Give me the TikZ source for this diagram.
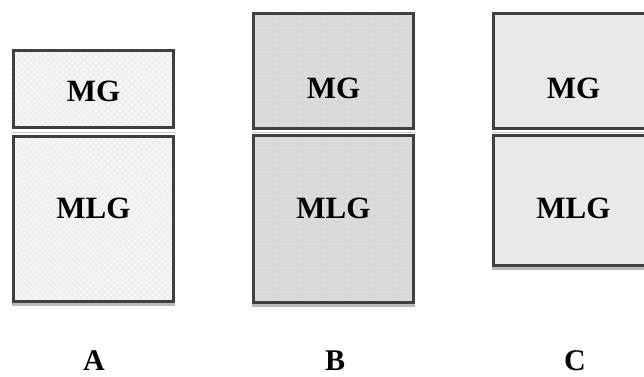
\documentclass[tikz,border=0pt]{standalone}
\usepackage{fontspec}
\setmainfont{Liberation Serif}
\usetikzlibrary{patterns.meta}
\definecolor{edge}{HTML}{404040}
\definecolor{fillA}{HTML}{EEEEEE}
\definecolor{fillB}{HTML}{D9D9D9}
\definecolor{fillC}{HTML}{E9E9E9}
\definecolor{seam}{HTML}{C8C8C8}
\tikzset{
  layerbox/.style={draw=edge, line width=3pt, rectangle, inner sep=0pt, outer sep=0pt},
  texA/.style={preaction={fill=fillA}, preaction={pattern={Lines[angle=45, distance=4pt, line width=0.5pt]}, pattern color=white}, preaction={pattern={Lines[angle=-45, distance=4pt, line width=0.5pt]}, pattern color=white}},
  texB/.style={preaction={fill=fillB}, preaction={pattern={Dots[distance=6pt, radius=0.7pt]}, pattern color=white!90!fillB}},
  texC/.style={preaction={fill=fillC}, preaction={pattern={Dots[distance=3pt, radius=0.4pt]}, pattern color=white}},
  lbl/.style={font=\fontsize{31}{31}\selectfont\bfseries, text=black, inner sep=0pt},
  caption/.style={font=\fontsize{30}{30}\selectfont\bfseries, text=black, inner sep=0pt, anchor=base},
}
\begin{document}
\begin{tikzpicture}[x=1pt,y=-1pt]
\useasboundingbox (0,0) rectangle (644,376);
\clip (0,0) rectangle (644,376);
% --- A ---
\fill[seam] (12,131.5) rectangle (175,132.5);
\fill[gray!55] (12,303) rectangle (175,306);
\node[layerbox, texA, minimum width=160pt, minimum height=77pt] (amg) at (93.5,89) {};
\node[layerbox, texA, minimum width=160pt, minimum height=165pt] (amlg) at (93.5,219) {};
\node[lbl] (amgt) at (93.5,91) {MG};
\node[lbl] (amlgt) at (93.5,208) {MLG};
% --- B ---
\fill[seam] (252,131.5) rectangle (415,132.5);
\fill[gray!55] (252,304) rectangle (415,307);
\node[layerbox, texB, minimum width=160pt, minimum height=115pt] (bmg) at (333.5,71) {};
\node[layerbox, texB, minimum width=160pt, minimum height=167pt] (bmlg) at (333.5,219) {};
\node[lbl] (bmgt) at (333.5,88) {MG};
\node[lbl] (bmlgt) at (333.5,208) {MLG};
% --- C ---
\fill[seam] (492,131.5) rectangle (655,132.5);
\fill[gray!55] (492,267) rectangle (655,270);
\node[layerbox, texC, minimum width=160pt, minimum height=115pt] (cmg) at (573.5,71) {};
\node[layerbox, texC, minimum width=160pt, minimum height=130pt] (cmlg) at (573.5,200.5) {};
\node[lbl] (cmgt) at (573.5,88) {MG};
\node[lbl] (cmlgt) at (573.5,208) {MLG};
% --- captions ---
\node[caption] (capA) at (94,370) {A};
\node[caption] (capB) at (335,370) {B};
\node[caption] (capC) at (575,370) {C};
\end{tikzpicture}
\end{document}
